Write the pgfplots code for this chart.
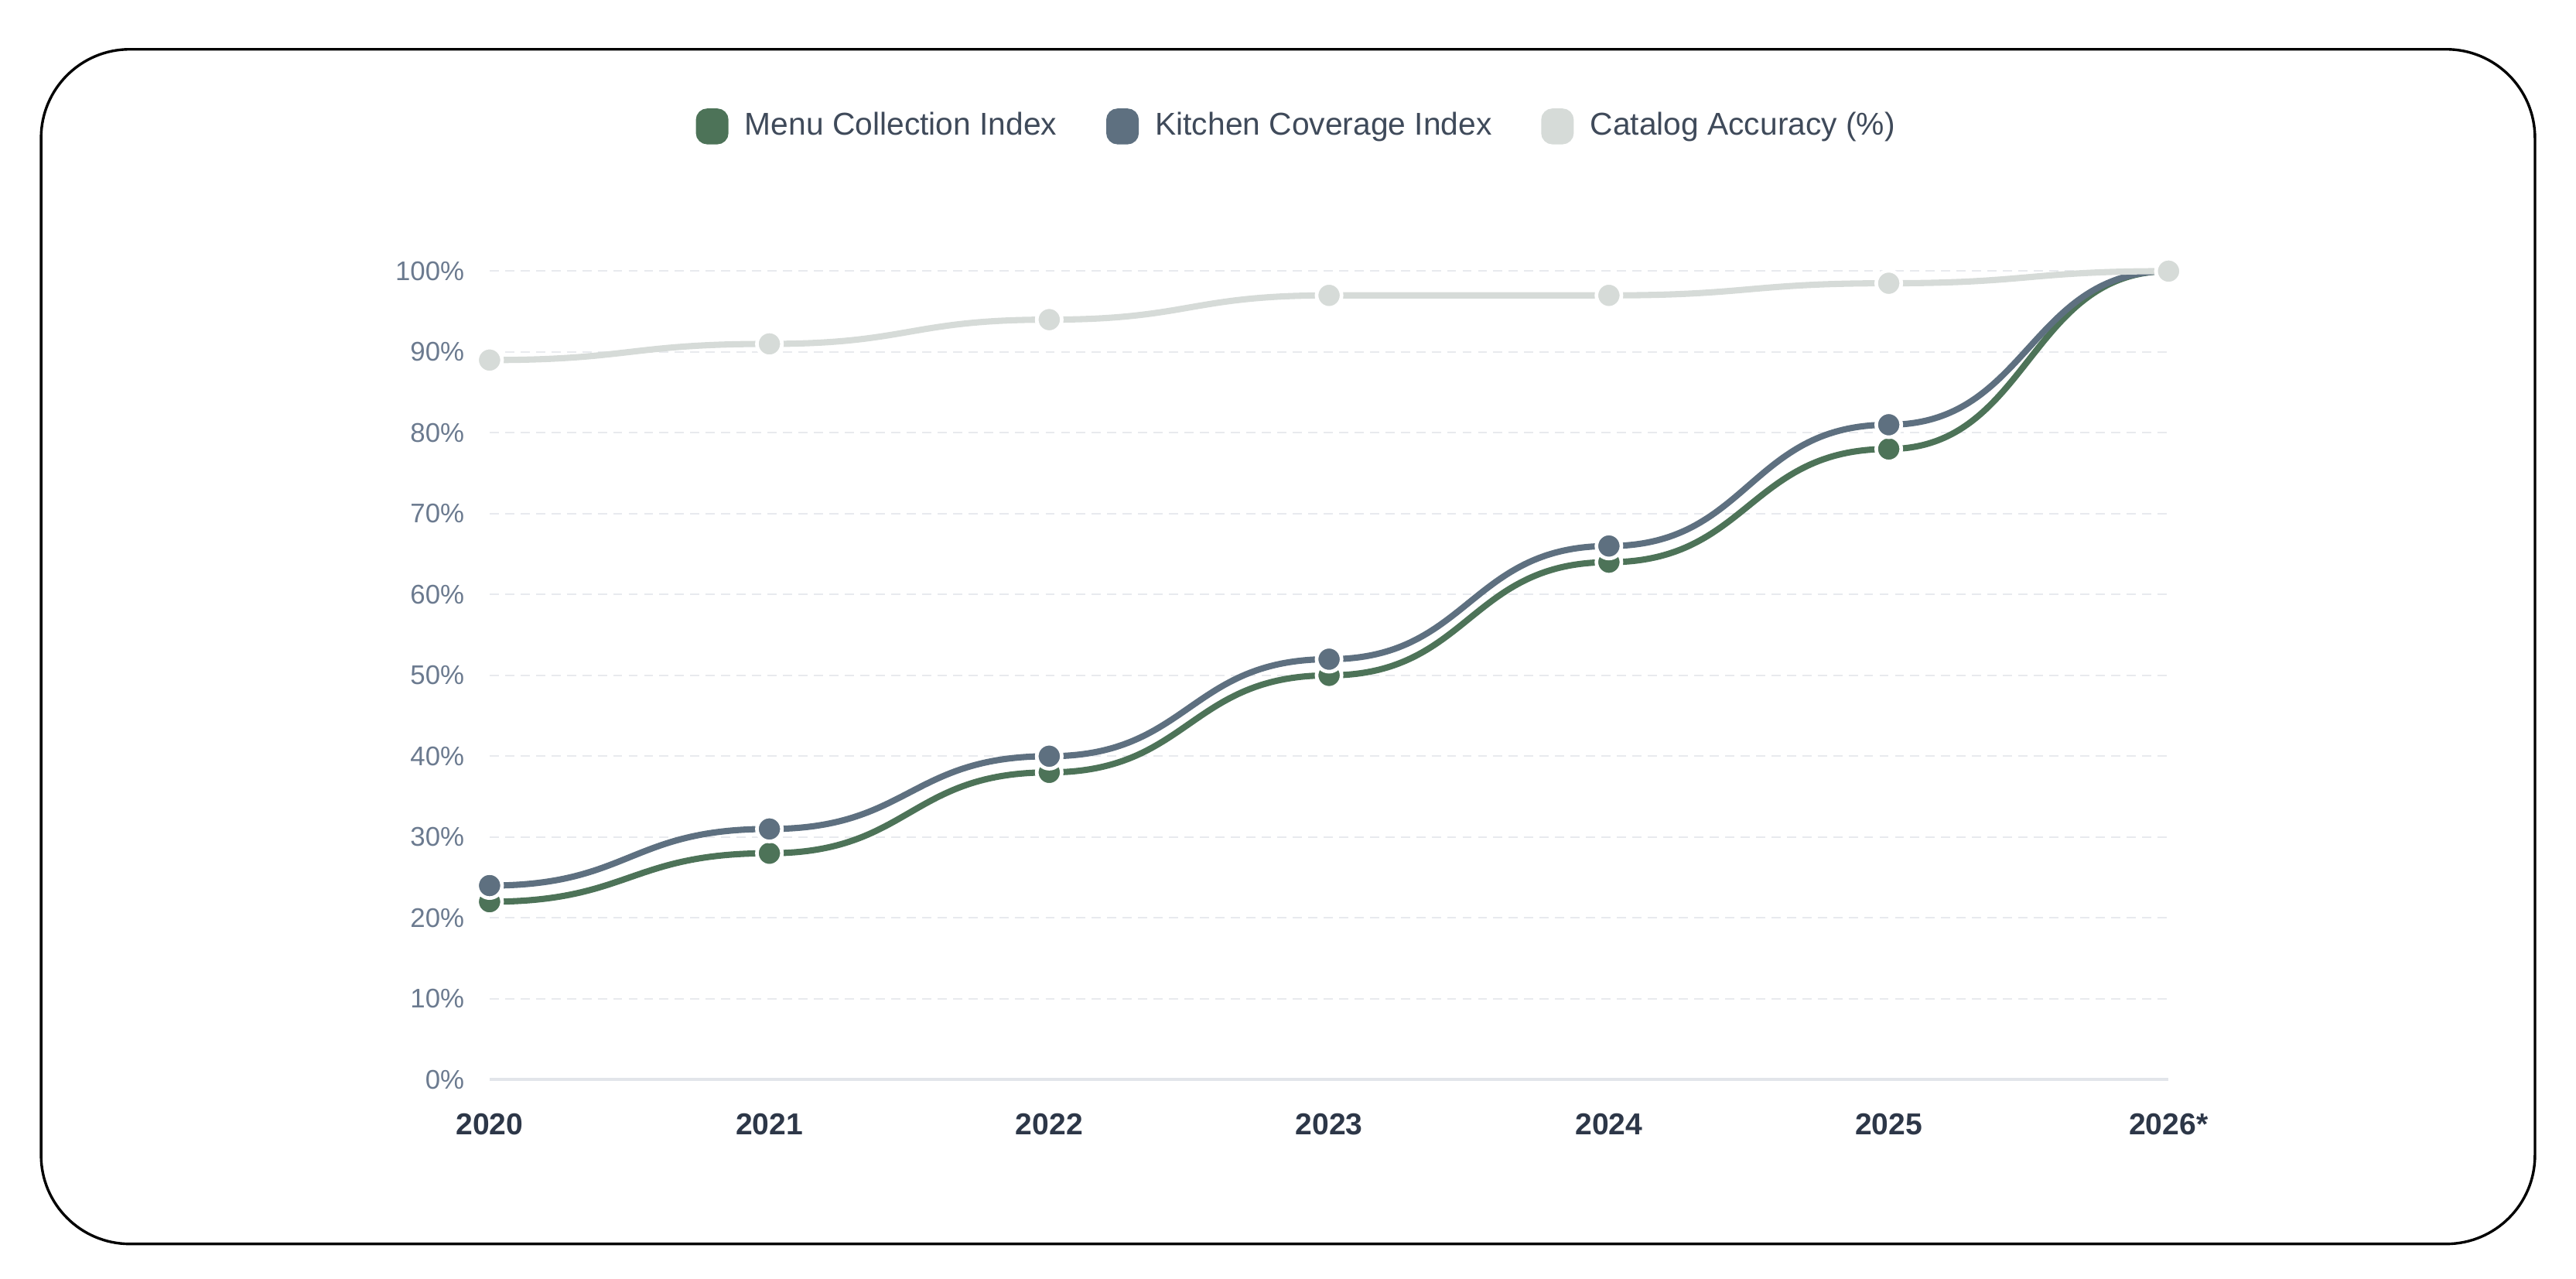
\documentclass[border=0pt]{standalone}
\usepackage{fontspec}
\setmainfont{Liberation Sans}
\usepackage{pgfplots}
\usepackage{pgfplotstable}
\pgfplotsset{compat=1.18}

\definecolor{menugreen}{RGB}{77,115,88}
\definecolor{kitchenslate}{RGB}{94,112,128}
\definecolor{catalogray}{RGB}{214,219,216}
\definecolor{gridc}{RGB}{232,234,238}
\definecolor{zeroline}{RGB}{226,229,234}
\definecolor{ytickc}{RGB}{107,122,143}
\definecolor{xtickc}{RGB}{45,55,72}
\definecolor{legtext}{RGB}{63,74,90}

% plot handler: horizontal tangent at every point (bump curve)
\makeatletter
\def\pgfplothandlerbumpx{%
  \def\pgf@plotstreamstart{%
    \global\let\pgf@plotstreampoint=\bump@first
    \global\let\pgf@plotstreamspecial=\pgfutil@gobble
    \global\let\pgf@plotstreamend=\pgfutil@empty
  }%
}
\def\bump@first#1{%
  \pgf@process{#1}%
  \xdef\bump@x{\the\pgf@x}\xdef\bump@y{\the\pgf@y}%
  \pgfpathmoveto{\pgfqpoint{\bump@x}{\bump@y}}%
  \global\let\pgf@plotstreampoint=\bump@next
}
\def\bump@next#1{%
  \pgf@process{#1}%
  \edef\bump@nx{\the\pgf@x}\edef\bump@ny{\the\pgf@y}%
  \pgf@xb=\bump@x\relax
  \advance\pgf@xb by \pgf@x
  \divide\pgf@xb by 2
  \edef\bump@mx{\the\pgf@xb}%
  \pgfpathcurveto{\pgfqpoint{\bump@mx}{\bump@y}}{\pgfqpoint{\bump@mx}{\bump@ny}}{\pgfqpoint{\bump@nx}{\bump@ny}}%
  \xdef\bump@x{\bump@nx}\xdef\bump@y{\bump@ny}%
}
\tikzset{bump x/.code={\let\tikz@plot@handler=\pgfplothandlerbumpx}}
\makeatother

\pgfplotstableread{
x menu kitchen catalog
0 22 24 89
1 28 31 91
2 38 40 94
3 50 52 97
4 64 66 97
5 78 81 98.5
6 100 100 100
}\datatable

\begin{document}
\begin{tikzpicture}
\useasboundingbox (0,0) rectangle (784pt,389pt);
\draw[line width=0.8pt, rounded corners=27pt] (12.5pt,10.5pt) rectangle (771.5pt,374pt);
\begin{axis}[
  at={(149pt,60.5pt)}, anchor=south west,
  scale only axis, width=511pt, height=246pt,
  xmin=0, xmax=6, ymin=0, ymax=100,
  clip=false,
  axis lines*=left,
  axis line style={-},
  y axis line style={draw=none},
  x axis line style={draw=zeroline, line width=0.9pt},
  tick style={draw=none},
  major tick length=0pt,
  xtick={0,...,6},
  xticklabels={2020,2021,2022,2023,2024,2025,2026*},
  ytick={0,10,...,100},
  yticklabels={0\%,10\%,20\%,30\%,40\%,50\%,60\%,70\%,80\%,90\%,100\%},
  ymajorgrids,
  grid style={draw=gridc, line width=0.5pt, dash pattern=on 2.8pt off 1.9pt},
  yticklabel style={font=\fontsize{8.2}{10}\selectfont, text=ytickc, inner sep=0pt, xshift=-7.5pt},
  xticklabel style={font=\fontsize{9.2}{11}\selectfont\bfseries, text=xtickc, inner sep=0pt, yshift=-10.2pt},
  legend columns=3,
  legend cell align=left,
  legend style={draw=none, fill=none, at={(0.482,1.179)}, anchor=center,
    font=\fontsize{9.6}{11}\selectfont, text=legtext,
    /tikz/every odd column/.append style={column sep=3pt},
    /tikz/every even column/.append style={column sep=13pt}},
  legend image code/.code={\fill[rounded corners=2.5pt] (0pt,-4.5pt) rectangle (8pt,4.5pt);},
  every axis plot/.append style={line width=1.9pt, mark=*, mark size=3.8pt},
]
\addplot[bump x, color=menugreen, mark options={draw=white, line width=1.1pt, fill=menugreen}]
  table[x=x, y=menu] {\datatable};
\addlegendentry{Menu Collection Index}
\addplot[bump x, color=kitchenslate, mark options={draw=white, line width=1.1pt, fill=kitchenslate}]
  table[x=x, y=kitchen] {\datatable};
\addlegendentry{Kitchen Coverage Index}
\addplot[bump x, color=catalogray, mark options={draw=white, line width=1.1pt, fill=catalogray}]
  table[x=x, y=catalog] {\datatable};
\addlegendentry{Catalog Accuracy (\%)}
\end{axis}
\end{tikzpicture}
\end{document}
